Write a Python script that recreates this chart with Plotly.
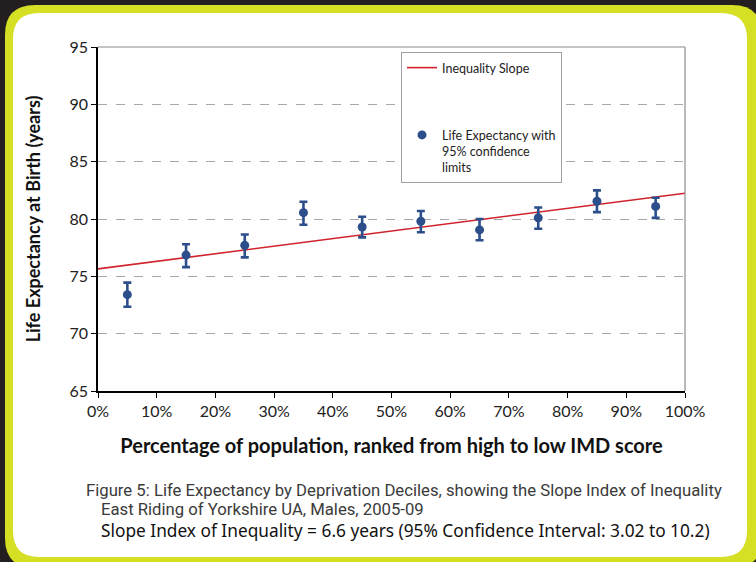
import plotly.graph_objects as go

# Life expectancy by deprivation decile (males, 2005-09)
decile_mid = [5, 15, 25, 35, 45, 55, 65, 75, 85, 95]
life_exp = [73.4, 76.85, 77.7, 80.55, 79.3, 79.8, 79.05, 80.1, 81.55, 81.1]
ci_upper = [74.45, 77.8, 78.65, 81.5, 80.2, 80.7, 80.0, 81.0, 82.5, 81.85]
ci_lower = [72.35, 75.8, 76.65, 79.5, 78.4, 78.85, 78.15, 79.15, 80.6, 80.1]

# Slope index of inequality line
sii = 6.6
sii_intercept = 75.65
slope_x = [0, 100]
slope_y = [sii_intercept, sii_intercept + sii]

x_ticks = [0, 10, 20, 30, 40, 50, 60, 70, 80, 90, 100]
y_ticks = [65, 70, 75, 80, 85, 90, 95]

W, H = 756, 562
ML, MR, MT, MB = 98, 71, 47, 171
PW, PH = W - ML - MR, H - MT - MB

def px(x):
    return (x - ML) / PW

def py(y):
    return (MT + PH - y) / PH

def rounded_rect(x0, y0, x1, y1, r):
    pts = [
        f"M {px(x0 + r)},{py(y0)}",
        f"L {px(x1 - r)},{py(y0)}",
        f"Q {px(x1)},{py(y0)} {px(x1)},{py(y0 + r)}",
        f"L {px(x1)},{py(y1 - r)}",
        f"Q {px(x1)},{py(y1)} {px(x1 - r)},{py(y1)}",
        f"L {px(x0 + r)},{py(y1)}",
        f"Q {px(x0)},{py(y1)} {px(x0)},{py(y1 - r)}",
        f"L {px(x0)},{py(y0 + r)}",
        f"Q {px(x0)},{py(y0)} {px(x0 + r)},{py(y0)}",
        "Z",
    ]
    return " ".join(pts)

DARK = "#231f20"
LIME = "#d5df24"
BLUE = "#2c4f8c"
RED = "#d0232c"
FONT = "Lato, sans-serif"

fig = go.Figure()

fig.add_trace(go.Scatter(
    x=slope_x, y=slope_y, mode="lines",
    line=dict(color=RED, width=1.6),
    name="Inequality Slope", legendgroup="a",
))

fig.add_trace(go.Scatter(
    x=decile_mid, y=life_exp, mode="markers",
    marker=dict(color=BLUE, size=9),
    error_y=dict(
        type="data", symmetric=False,
        array=[u - v for u, v in zip(ci_upper, life_exp)],
        arrayminus=[v - l for v, l in zip(life_exp, ci_lower)],
        color=BLUE, thickness=2.6, width=4,
    ),
    name="Life Expectancy with<br>95% confidence<br>limits", legendgroup="b",
))

shapes = [
    dict(type="path", xref="paper", yref="paper", layer="below",
         path=rounded_rect(5, 5, 762, 568, 30), fillcolor=LIME, line=dict(width=0)),
    dict(type="path", xref="paper", yref="paper", layer="below",
         path=rounded_rect(13, 13, 747, 557, 26), fillcolor="white", line=dict(width=0)),
    dict(type="line", xref="paper", yref="paper", x0=0, x1=1, y0=1, y1=1,
         line=dict(color="#8a8a8a", width=1.2)),
    dict(type="line", xref="paper", yref="paper", x0=1, x1=1, y0=0, y1=1,
         line=dict(color="#8a8a8a", width=1.2)),
]

caption_font = dict(family="Roboto, sans-serif", size=16.7, color="#3a3a3a")
annotations = [
    dict(text="Figure 5: Life Expectancy by Deprivation Deciles, showing the Slope Index of Inequality",
         x=px(84), y=py(490), xref="paper", yref="paper", xanchor="left", yanchor="middle",
         showarrow=False, font=caption_font),
    dict(text="East Riding of Yorkshire UA, Males, 2005-09",
         x=px(99), y=py(509), xref="paper", yref="paper", xanchor="left", yanchor="middle",
         showarrow=False, font=caption_font),
    dict(text="Slope Index of Inequality = 6.6 years (95% Confidence Interval: 3.02 to 10.2)",
         x=px(99), y=py(530), xref="paper", yref="paper", xanchor="left", yanchor="middle",
         showarrow=False,
         font=dict(family="'Noto Sans', sans-serif", size=17.3, color="#111111")),
]

fig.update_layout(
    width=W, height=H, autosize=False,
    margin=dict(l=ML, r=MR, t=MT, b=MB),
    paper_bgcolor=DARK, plot_bgcolor="rgba(0,0,0,0)",
    font=dict(family=FONT, color="#222222"),
    shapes=shapes, annotations=annotations,
    showlegend=True,
    legend=dict(
        x=px(401), y=py(52), xanchor="left", yanchor="top",
        bgcolor="white", bordercolor="#a0a0a0", borderwidth=1,
        font=dict(family=FONT, size=12.5, color="#222222"),
        traceorder="grouped", tracegroupgap=48, itemwidth=30, valign="top",
    ),
    xaxis=dict(
        range=[0, 100], tickvals=x_ticks, ticktext=[f"{v}%" for v in x_ticks],
        showgrid=False, zeroline=False,
        showline=True, linecolor="black", linewidth=1.5,
        ticks="outside", ticklen=5, tickcolor="black", tickwidth=1.2,
        tickfont=dict(family=FONT, size=16, color="#222222"),
        title=dict(text="Percentage of population, ranked from high to low IMD score",
                   font=dict(family=FONT, size=20, color="#111111", weight="bold"), standoff=20),
    ),
    yaxis=dict(
        range=[65, 95], tickvals=y_ticks,
        showgrid=True, gridcolor="#a8a8a8", griddash="dash", gridwidth=1.2,
        zeroline=False,
        showline=True, linecolor="black", linewidth=1.5,
        ticks="outside", ticklen=5, tickcolor="black", tickwidth=1.2,
        tickfont=dict(family=FONT, size=16, color="#222222"),
        title=dict(text="Life Expectancy at Birth (years)",
                   font=dict(family=FONT, size=18, color="#111111", weight="bold"), standoff=24),
    ),
)

fig.write_html("out.html")
